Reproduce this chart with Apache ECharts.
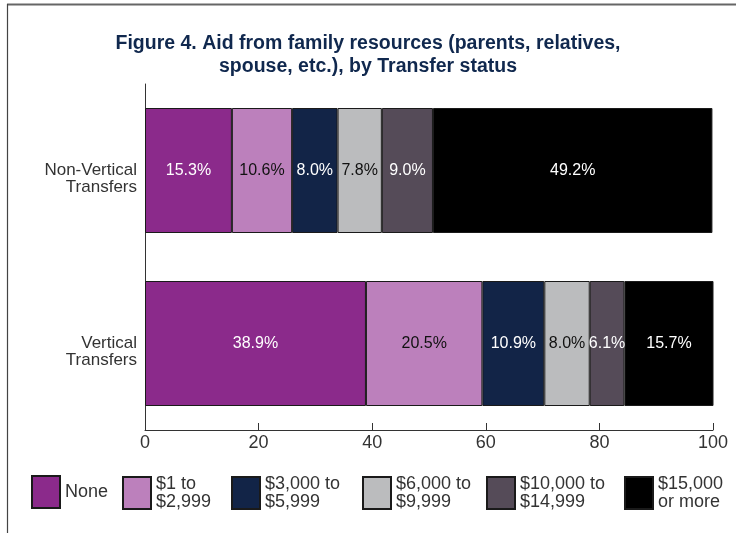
<!DOCTYPE html>
<html>
<head>
<meta charset="utf-8">
<script src="https://cdn.jsdelivr.net/npm/echarts@6/dist/echarts.min.js"></script>
<style>
  html, body { margin: 0; padding: 0; background: #fff; }
  #chart { width: 736px; height: 533px; }
</style>
</head>
<body>
<div id="chart"></div>
<script>
// categories bottom to top (echarts puts first category at the bottom)
var categories = ['Vertical\nTransfers', 'Non-Vertical\nTransfers'];

var seriesNames = ['None', '$1 to $2,999', '$3,000 to $5,999', '$6,000 to $9,999', '$10,000 to $14,999', '$15,000 or more'];
var legendLabels = ['None', '$1 to\n$2,999', '$3,000 to\n$5,999', '$6,000 to\n$9,999', '$10,000 to\n$14,999', '$15,000\nor more'];
var seriesColors = ['#8b2a8b', '#bc80bc', '#122447', '#bbbcbe', '#554b58', '#000000'];
var labelColors = ['#ffffff', '#111111', '#ffffff', '#111111', '#ffffff', '#ffffff'];

// [Vertical, Non-Vertical]
var noneVals = [38.9, 15.3];
var upTo2999 = [20.5, 10.6];
var upTo5999 = [10.9, 8.0];
var upTo9999 = [8.0, 7.8];
var upTo14999 = [6.1, 9.0];
var over15000 = [15.7, 49.2];

var xTicks = [0, 20, 40, 60, 80, 100];

var allValues = [noneVals, upTo2999, upTo5999, upTo9999, upTo14999, over15000];

// left edge of each legend (legend padding is 5px, box sits 5px inside)
var legendLefts = [26, 117, 226, 357, 481, 619];

var chartDom = document.getElementById('chart');
var myChart = echarts.init(chartDom);
var option;

var series = allValues.map(function (vals, i) {
  return {
    name: seriesNames[i],
    type: 'bar',
    stack: 'total',
    barWidth: 125,
    data: vals,
    itemStyle: {
      color: seriesColors[i],
      borderColor: '#1a1a1a',
      borderWidth: 1
    },
    label: {
      show: true,
      position: 'inside',
      color: labelColors[i],
      fontFamily: 'Liberation Sans',
      fontSize: 16,
      formatter: function (p) { return p.value.toFixed(1) + '%'; }
    }
  };
});

var legends = seriesNames.map(function (name, i) {
  return {
    left: legendLefts[i],
    top: 470,
    itemWidth: 28,
    itemHeight: 32,
    icon: 'rect',
    data: [name],
    formatter: function (n) { return legendLabels[seriesNames.indexOf(n)]; },
    textStyle: {
      color: '#333',
      fontFamily: 'Liberation Sans',
      fontSize: 18,
      lineHeight: 18
    }
  };
});

option = {
  animation: false,
  title: {
    text: 'Figure 4. Aid from family resources (parents, relatives,\nspouse, etc.), by Transfer status',
    left: 'center',
    top: 27,
    textStyle: {
      color: '#10284e',
      fontFamily: 'Liberation Sans',
      fontWeight: 'bold',
      fontSize: 19.5,
      lineHeight: 23
    }
  },
  legend: legends,
  grid: {
    left: 145,
    right: 23,
    top: 84,
    bottom: 103,
    containLabel: false
  },
  xAxis: {
    type: 'value',
    min: 0,
    max: 100,
    interval: 20,
    axisLine: { show: true, lineStyle: { color: '#333', width: 1 } },
    axisTick: { show: true, inside: true, length: 7, lineStyle: { color: '#333' } },
    splitLine: { show: false },
    axisLabel: {
      color: '#333',
      fontFamily: 'Liberation Sans',
      fontSize: 18,
      margin: 4,
      formatter: function (v) { return xTicks.indexOf(v) >= 0 ? String(v) : ''; }
    }
  },
  yAxis: {
    type: 'category',
    data: categories,
    axisLine: { show: true, lineStyle: { color: '#333', width: 1 } },
    axisTick: { show: false },
    axisLabel: {
      color: '#333',
      fontFamily: 'Liberation Sans',
      fontSize: 17,
      lineHeight: 17,
      align: 'right',
      margin: 8,
      // leading blank line pushes the label a bit below the bar centre
      formatter: function (v) { return '\n' + v; }
    }
  },
  graphic: [
    {
      type: 'line',
      shape: { x1: 7, y1: 4.5, x2: 736, y2: 4.5 },
      style: { stroke: '#666', lineWidth: 2 }
    },
    {
      type: 'line',
      shape: { x1: 7.5, y1: 4, x2: 7.5, y2: 533 },
      style: { stroke: '#444', lineWidth: 1.2 }
    }
  ],
  series: series
};

option && myChart.setOption(option);
</script>
</body>
</html>
